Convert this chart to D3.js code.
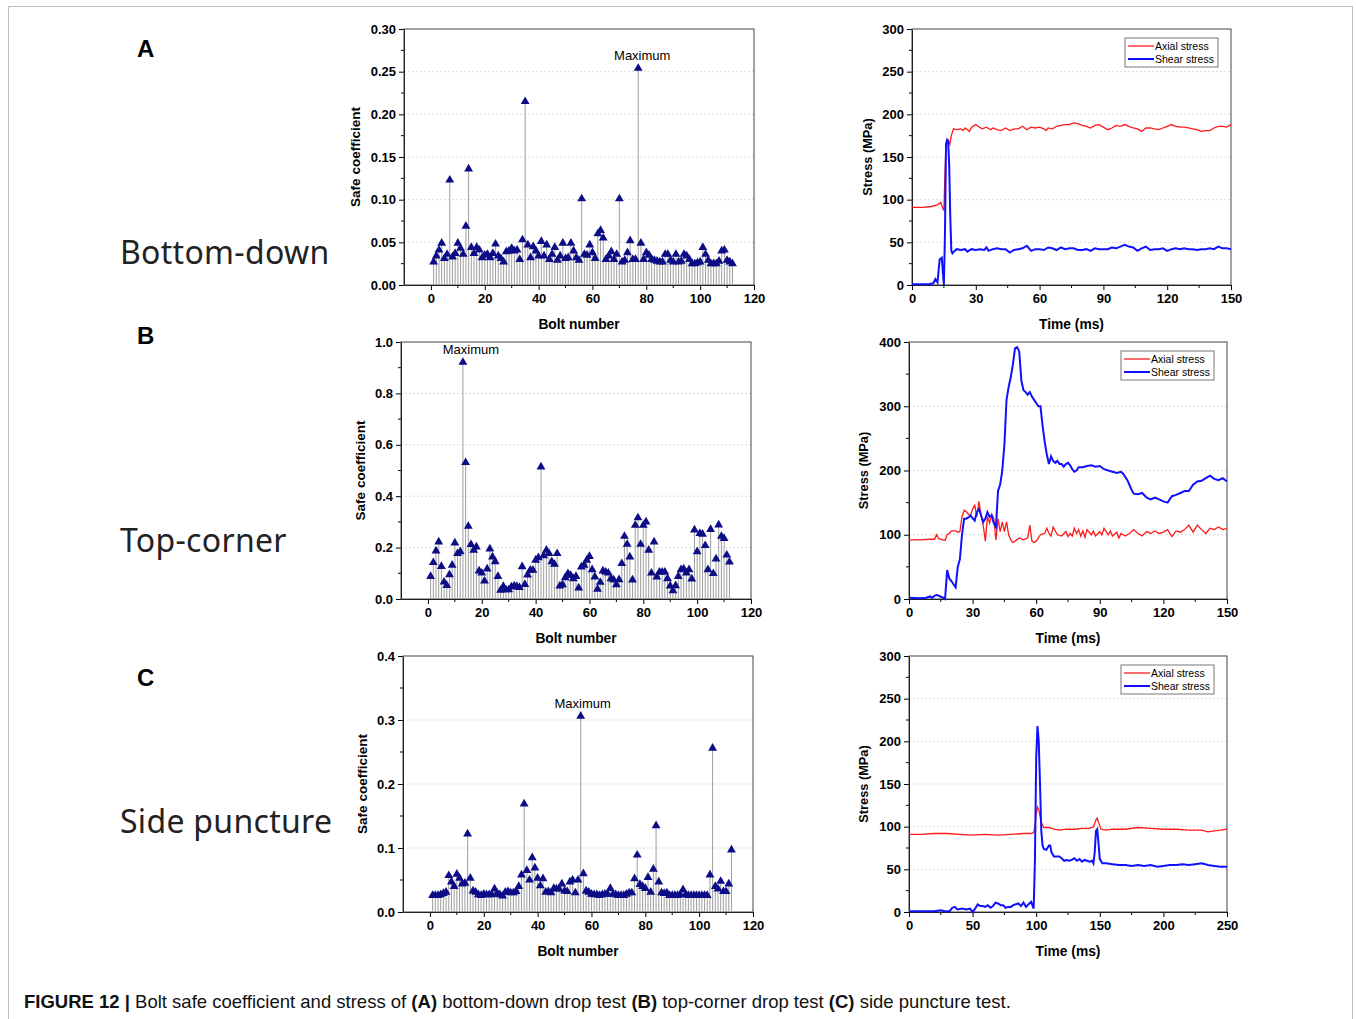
<!DOCTYPE html>
<html>
<head>
<meta charset="utf-8">
<script src="https://cdn.jsdelivr.net/npm/d3@7"></script>
<style>
  body { margin: 0; background: #fff; }
  svg { display: block; }
</style>
</head>
<body>
<script>
// ---- data ----
const bolts = d3.range(1, 113);

const safeA = [0.027,0.034,0.041,0.049,0.031,0.036,0.123,0.033,0.037,0.049,0.043,0.036,0.069,0.136,0.044,0.037,0.044,0.041,0.032,0.035,
  0.036,0.032,0.037,0.048,0.034,0.031,0.027,0.039,0.040,0.043,0.040,0.041,0.030,0.053,0.215,0.047,0.032,0.045,0.040,0.034,
  0.051,0.034,0.047,0.030,0.036,0.044,0.029,0.034,0.049,0.031,0.032,0.049,0.040,0.032,0.029,0.101,0.036,0.035,0.047,0.038,
  0.031,0.060,0.064,0.055,0.030,0.034,0.039,0.030,0.036,0.101,0.027,0.029,0.038,0.052,0.030,0.030,0.254,0.049,0.030,0.038,
  0.035,0.030,0.029,0.028,0.027,0.027,0.036,0.036,0.029,0.027,0.036,0.027,0.028,0.036,0.034,0.030,0.025,0.025,0.026,0.027,
  0.044,0.036,0.029,0.025,0.025,0.025,0.028,0.040,0.041,0.029,0.027,0.025];

const safeB = [0.088,0.142,0.187,0.222,0.127,0.066,0.053,0.095,0.132,0.218,0.177,0.184,0.921,0.531,0.283,0.212,0.190,0.203,0.109,0.101,
  0.070,0.117,0.195,0.164,0.145,0.088,0.034,0.049,0.036,0.036,0.047,0.051,0.049,0.045,0.126,0.057,0.094,0.112,0.112,0.151,
  0.161,0.514,0.169,0.190,0.177,0.145,0.135,0.177,0.051,0.056,0.083,0.099,0.092,0.079,0.088,0.043,0.125,0.132,0.151,0.166,
  0.114,0.086,0.038,0.065,0.109,0.105,0.101,0.079,0.074,0.056,0.075,0.138,0.244,0.213,0.164,0.074,0.287,0.316,0.213,0.287,
  0.300,0.190,0.101,0.222,0.086,0.105,0.105,0.105,0.079,0.051,0.032,0.052,0.088,0.114,0.117,0.101,0.114,0.078,0.269,0.184,
  0.255,0.252,0.208,0.114,0.271,0.099,0.156,0.288,0.244,0.236,0.171,0.144];

const safeC = [0.026,0.026,0.026,0.027,0.029,0.031,0.057,0.047,0.040,0.059,0.053,0.044,0.045,0.122,0.053,0.033,0.031,0.027,0.026,0.028,
  0.027,0.027,0.027,0.036,0.029,0.027,0.025,0.031,0.032,0.030,0.030,0.032,0.040,0.058,0.169,0.065,0.050,0.085,0.069,0.053,
  0.041,0.052,0.031,0.032,0.030,0.037,0.036,0.036,0.044,0.033,0.032,0.047,0.050,0.030,0.050,0.306,0.060,0.033,0.031,0.028,
  0.027,0.027,0.026,0.027,0.028,0.028,0.037,0.028,0.027,0.026,0.026,0.026,0.028,0.030,0.030,0.052,0.089,0.043,0.040,0.037,
  0.054,0.031,0.067,0.135,0.047,0.030,0.029,0.030,0.026,0.026,0.026,0.026,0.027,0.035,0.027,0.026,0.026,0.026,0.026,0.026,
  0.026,0.026,0.026,0.058,0.256,0.040,0.036,0.048,0.032,0.032,0.044,0.097];

// [time ms, stress MPa]
const axialA = [[0,91],[5,91],[9,92],[12,94],[13.5,97],[14.5,90],[15,87],[15.5,130],[16,165],[17,170],[17.8,165],[18.5,175],[19.5,183],
  [21,182],[23,183],[24,181],[25,184],[26,182],[27,180],[28,185],[30,188],[31,186],[33,183],[35,185],[37,182],[38,184],[40,182],
  [42,181],[44,184],[46,181],[48,183],[50,183],[52,186],[54,182],[56,185],[58,184],[60,185],[62,183],[63,181],[64,184],[66,183],
  [68,186],[70,187],[72,188],[74,188],[76,190],[78,189],[80,187],[82,186],[84,184],[86,187],[88,188],[90,185],[92,182],[94,184],
  [96,187],[98,186],[100,188],[102,186],[104,184],[106,183],[108,180],[110,184],[112,184],[114,183],[116,182],[118,184],[120,186],
  [122,188],[124,186],[126,185],[128,185],[130,184],[132,183],[134,182],[136,180],[138,181],[140,181],[142,184],[144,186],[146,186],
  [148,185],[150,188]];
const shearA = [[0,1],[8,1],[10,2],[11,7],[12,3],[13,30],[14,32],[14.5,15],[15,0],[15.5,60],[16,165],[16.5,170],[17,168],[17.5,140],
  [18,80],[18.5,40],[19,37],[20,40],[21,42],[23,41],[25,42],[26,39],[28,42],[30,41],[32,42],[34,41],[35,44],[36,40],[38,42],[40,43],
  [42,42],[44,42],[46,38],[48,41],[50,42],[52,43],[54,46],[56,40],[58,42],[60,42],[62,41],[64,44],[66,43],[68,41],[70,44],[72,42],
  [74,43],[76,43],[78,41],[80,41],[82,42],[84,40],[86,43],[88,42],[90,42],[92,42],[94,44],[96,43],[98,45],[100,47],[102,45],[104,44],
  [106,40],[108,43],[110,45],[112,41],[114,42],[116,42],[118,43],[120,40],[122,42],[124,43],[126,42],[128,43],[130,42],[132,42],
  [134,41],[136,42],[138,42],[140,43],[142,42],[144,45],[146,43],[148,43],[150,42]];

const axialB = [[0,92],[5,92],[10,93],[12,93],[13,100],[14,94],[16,92],[17,91],[18,100],[19,102],[20,106],[22,106],[23,104],[24,105],
  [25,128],[26,138],[27,136],[28,132],[29,130],[30,140],[31,146],[32,128],[33,152],[34,130],[35,115],[36,90],[37,128],[38,118],
  [39,132],[40,125],[41,92],[42,125],[43,105],[44,120],[45,105],[46,120],[47,100],[48,92],[49,88],[50,90],[52,95],[54,92],[56,95],
  [57,115],[58,90],[59,88],[60,90],[62,100],[64,102],[65,110],[66,102],[67,98],[68,112],[70,100],[72,98],[74,105],[75,97],[76,102],
  [77,98],[78,110],[79,102],[80,108],[81,98],[82,106],[83,96],[84,108],[86,100],[87,106],[88,98],[90,105],[91,100],[92,110],[94,100],
  [95,106],[96,98],[98,104],[99,95],[100,102],[102,98],[104,102],[106,108],[108,102],[110,98],[112,105],[114,102],[116,106],[118,102],
  [120,104],[122,108],[124,97],[126,106],[128,104],[130,108],[132,115],[134,104],[136,115],[138,108],[140,102],[142,110],[144,108],
  [146,112],[148,108],[150,110]];
const shearB = [[0,2],[5,1],[8,2],[10,4],[11,2],[12,5],[13,6],[14,5],[16,2],[17,0],[18,45],[19,32],[20,28],[22,18],[23,50],[24,62],
  [25,100],[26,125],[27,125],[28,127],[29,130],[30,126],[31,122],[32,135],[33,140],[34,130],[35,120],[36,125],[37,135],[38,128],
  [39,130],[40,118],[41,112],[42,168],[43,178],[44,200],[45,240],[46,310],[47,330],[48,345],[49,365],[50,390],[51,392],[52,385],
  [53,340],[54,325],[55,322],[56,318],[57,322],[58,315],[59,310],[60,305],[61,300],[62,300],[63,270],[64,245],[65,225],[66,210],
  [67,222],[68,215],[69,212],[70,215],[71,210],[72,210],[73,206],[74,210],[75,212],[76,208],[77,202],[78,198],[79,200],[80,205],
  [82,205],[84,207],[86,208],[88,206],[90,207],[92,202],[94,200],[96,198],[98,196],[100,198],[101,195],[103,185],[105,170],[106,164],
  [108,163],[110,165],[112,158],[114,155],[116,158],[118,155],[120,152],[122,150],[124,160],[126,162],[128,165],[130,168],[132,168],
  [134,178],[136,183],[138,184],[140,188],[142,192],[144,187],[146,185],[148,188],[150,183]];

const axialC = [[0,91],[10,91],[20,92],[30,92],[40,91],[50,90],[60,91],[70,90],[80,91],[90,92],[96,92],[98,93],[99,100],[100,115],
  [101,123],[102,120],[104,105],[106,99],[108,99],[110,99],[114,97],[118,96],[124,97],[130,97],[136,98],[142,98],[145,100],[147,108],
  [148,110],[149,105],[151,97],[155,96],[160,97],[170,97],[180,99],[190,98],[200,97],[210,97],[220,96],[230,96],[235,94],[240,95],
  [245,96],[250,97]];
const shearC = [[0,1],[10,1],[20,1],[25,2],[28,1],[32,1],[34,5],[36,6],[38,3],[42,4],[45,3],[48,4],[50,0],[52,4],[54,9],[56,7],[58,7],
  [60,6],[62,8],[64,5],[66,7],[68,11],[70,10],[72,8],[74,8],[76,5],[78,6],[80,6],[82,8],[84,9],[86,10],[88,7],[90,11],[92,6],[94,9],
  [96,12],[98,4],[99,60],[100,180],[101,218],[102,200],[103,150],[104,95],[105,78],[106,74],[108,73],[110,78],[111,78],[112,70],
  [114,65],[116,65],[118,65],[120,63],[122,60],[124,61],[126,60],[128,61],[130,63],[132,60],[134,62],[136,59],[138,61],[140,60],
  [142,59],[144,60],[145,57],[146,70],[147,95],[148,97],[149,80],[150,62],[152,57],[155,57],[160,56],[165,55],[170,55],[175,54],
  [180,55],[185,54],[190,55],[195,53],[200,54],[205,55],[210,55],[215,56],[220,55],[225,56],[230,57],[235,55],[240,54],[245,53],
  [250,53]];

const legendLabels = ["Axial stress", "Shear stress"];
const panelLetters = ["A", "B", "C"];
const panelNames = ["Bottom-down", "Top-corner", "Side puncture"];

// ---- page ----
const W = 1356, H = 1019;
const svg = d3.select("body").append("svg")
    .attr("width", W)
    .attr("height", H)
    .style("font-family", "'Liberation Sans', Arial, sans-serif");

// thin frame round the figure
svg.append("path")
    .attr("d", "M8.5,1019 V6.5 H1352.5 V1019")
    .attr("fill", "none")
    .attr("stroke", "#bdbdbd");

// panel letters and names
const letterY = [57, 344, 686];
const nameY = [264, 552, 833];
panelLetters.forEach((t, i) => {
  svg.append("text").attr("x", 137).attr("y", letterY[i])
    .attr("font-size", 24).attr("font-weight", "bold").text(t);
  svg.append("text").attr("x", 120).attr("y", nameY[i])
    .attr("font-family", "'Noto Sans', sans-serif")
    .attr("font-size", 32).attr("letter-spacing", 0.3).attr("fill", "#222").text(panelNames[i]);
});

// shared axis helper: box, grid, ticks, labels
function frame(g, x, y, cfg) {
  const [x0, x1] = x.range(), [y0, y1] = y.range();

  // dotted grid at the major y ticks
  g.selectAll(".grid").data(cfg.yTicks.filter(v => v > y.domain()[0] && v < y.domain()[1]))
    .enter().append("line")
      .attr("x1", x0).attr("x2", x1)
      .attr("y1", d => y(d)).attr("y2", d => y(d))
      .attr("stroke", "#cfcfcf").attr("stroke-dasharray", "2,2").attr("stroke-width", 0.8);

  // x axis
  const ax = g.append("g").attr("transform", `translate(0,${y0})`)
    .call(d3.axisBottom(x).tickValues(cfg.xTicks).tickSize(5).tickSizeOuter(0).tickPadding(4));
  ax.append("g").selectAll("line").data(cfg.xMinor).enter().append("line")
    .attr("x1", d => x(d)).attr("x2", d => x(d)).attr("y1", 0).attr("y2", 3).attr("stroke", "#000");

  // y axis
  const ay = g.append("g").attr("transform", `translate(${x0},0)`)
    .call(d3.axisLeft(y).tickValues(cfg.yTicks).tickFormat(cfg.yFmt).tickSize(5).tickSizeOuter(0).tickPadding(3));
  ay.append("g").selectAll("line").data(cfg.yMinor).enter().append("line")
    .attr("y1", d => y(d)).attr("y2", d => y(d)).attr("x1", 0).attr("x2", -3).attr("stroke", "#000");

  [ax, ay].forEach(a => {
    a.selectAll("text").attr("font-size", 13).attr("font-weight", "bold").attr("fill", "#000")
      .attr("font-family", "'Liberation Sans', Arial, sans-serif");
    a.select(".domain").attr("stroke", "#000");
  });

  // box
  g.append("rect").attr("x", x0).attr("y", y1).attr("width", x1 - x0).attr("height", y0 - y1)
    .attr("fill", "none").attr("stroke", "#444").attr("stroke-width", 1);

  // titles
  g.append("text").attr("x", (x0 + x1) / 2).attr("y", y0 + 44)
    .attr("text-anchor", "middle").attr("font-size", 13.8).attr("font-weight", "bold").text(cfg.xTitle);
  g.append("text").attr("transform", `translate(${x0 - cfg.yTitleOff},${(y0 + y1) / 2}) rotate(-90)`)
    .attr("text-anchor", "middle").attr("font-size", cfg.yTitleSize).attr("font-weight", "bold").text(cfg.yTitle);
}

// stem plot of bolt safe coefficient
function drawStem(cfg) {
  const g = svg.append("g");
  const x = d3.scaleLinear().domain([-10, 120]).range([cfg.left, cfg.right]);
  const y = d3.scaleLinear().domain([0, cfg.yMax]).range([cfg.bottom, cfg.top]);

  frame(g, x, y, {
    xTicks: d3.range(0, 121, 20), xMinor: d3.range(10, 120, 20),
    yTicks: d3.range(0, cfg.yMax + 1e-9, cfg.yStep), yMinor: d3.range(cfg.yStep / 2, cfg.yMax, cfg.yStep),
    yFmt: d3.format(cfg.fmt), xTitle: "Bolt number", yTitle: "Safe coefficient", yTitleOff: cfg.yTitleOff, yTitleSize: 13.5
  });

  const pts = bolts.map((b, i) => ({ b: b, v: cfg.values[i] }));

  g.selectAll(".stem").data(pts).enter().append("line")
    .attr("x1", d => x(d.b)).attr("x2", d => x(d.b))
    .attr("y1", y(0)).attr("y2", d => y(d.v))
    .attr("stroke", "#9e9e9e").attr("stroke-width", 1);

  g.selectAll(".tri").data(pts).enter().append("path")
    .attr("d", d3.symbol(d3.symbolTriangle).size(34))
    .attr("transform", d => `translate(${x(d.b)},${y(d.v)})`)
    .attr("fill", "#0c0c86");

  const top = pts.reduce((a, d) => d.v > a.v ? d : a);
  g.append("text").attr("x", x(top.b) + cfg.maxDx).attr("y", y(top.v) - 8)
    .attr("text-anchor", "middle").attr("font-size", 13).text("Maximum");
}

// stress history lines
function drawStress(cfg) {
  const g = svg.append("g");
  const x = d3.scaleLinear().domain([0, cfg.xMax]).range([cfg.left, cfg.right]);
  const y = d3.scaleLinear().domain([0, cfg.yMax]).range([cfg.bottom, cfg.top]);

  frame(g, x, y, {
    xTicks: d3.range(0, cfg.xMax + 1, cfg.xStep), xMinor: d3.range(cfg.xStep / 2, cfg.xMax, cfg.xStep),
    yTicks: d3.range(0, cfg.yMax + 1, cfg.yStep), yMinor: d3.range(cfg.yStep / 2, cfg.yMax, cfg.yStep),
    yFmt: d3.format("d"), xTitle: "Time (ms)", yTitle: "Stress (MPa)", yTitleOff: cfg.yTitleOff, yTitleSize: 12.8
  });

  const line = d3.line().x(d => x(d[0])).y(d => y(d[1]));
  g.append("path").datum(cfg.axial).attr("d", line)
    .attr("fill", "none").attr("stroke", "#ff1a1a").attr("stroke-width", 1.3);
  g.append("path").datum(cfg.shear).attr("d", line)
    .attr("fill", "none").attr("stroke", "#1010ff").attr("stroke-width", 2);

  // legend
  const lg = g.append("g").attr("transform", `translate(${cfg.right - 106},${cfg.top + 9})`);
  lg.append("rect").attr("width", 93).attr("height", 29)
    .attr("fill", "#fff").attr("stroke", "#555").attr("stroke-width", 0.8);
  legendLabels.forEach((t, i) => {
    lg.append("line").attr("x1", 3).attr("x2", 29).attr("y1", 8 + i * 13).attr("y2", 8 + i * 13)
      .attr("stroke", i ? "#1010ff" : "#ff1a1a").attr("stroke-width", i ? 2 : 1.3);
    lg.append("text").attr("x", 30).attr("y", 12 + i * 13).attr("font-size", 10.5).text(t);
  });
}

drawStem({ values: safeA, left: 404, right: 754, top: 29, bottom: 285, yMax: 0.30, yStep: 0.05, fmt: ".2f", yTitleOff: 44, maxDx: 4 });
drawStem({ values: safeB, left: 401, right: 751, top: 342, bottom: 599, yMax: 1.0, yStep: 0.2, fmt: ".1f", yTitleOff: 36, maxDx: 8 });
drawStem({ values: safeC, left: 403, right: 753, top: 656, bottom: 912, yMax: 0.4, yStep: 0.1, fmt: ".1f", yTitleOff: 36, maxDx: 2 });

drawStress({ axial: axialA, shear: shearA, left: 912, right: 1231, top: 29, bottom: 285, xMax: 150, xStep: 30, yMax: 300, yStep: 50, yTitleOff: 40 });
drawStress({ axial: axialB, shear: shearB, left: 909, right: 1227, top: 342, bottom: 599, xMax: 150, xStep: 30, yMax: 400, yStep: 100, yTitleOff: 41 });
drawStress({ axial: axialC, shear: shearC, left: 909, right: 1227, top: 656, bottom: 912, xMax: 250, xStep: 50, yMax: 300, yStep: 50, yTitleOff: 41 });

// caption
const cap = svg.append("text").attr("x", 24).attr("y", 1008)
    .attr("font-family", "'Liberation Sans Narrow', 'Arial Narrow', 'Liberation Sans', sans-serif")
    .attr("font-size", 18.5).attr("fill", "#111");
[["FIGURE 12 | ", true], ["Bolt safe coefficient and stress of ", false], ["(A)", true], [" bottom-down drop test ", false],
 ["(B)", true], [" top-corner drop test ", false], ["(C)", true], [" side puncture test.", false]]
  .forEach(([t, b]) => cap.append("tspan").attr("font-weight", b ? "bold" : "normal").text(t));
</script>
</body>
</html>
